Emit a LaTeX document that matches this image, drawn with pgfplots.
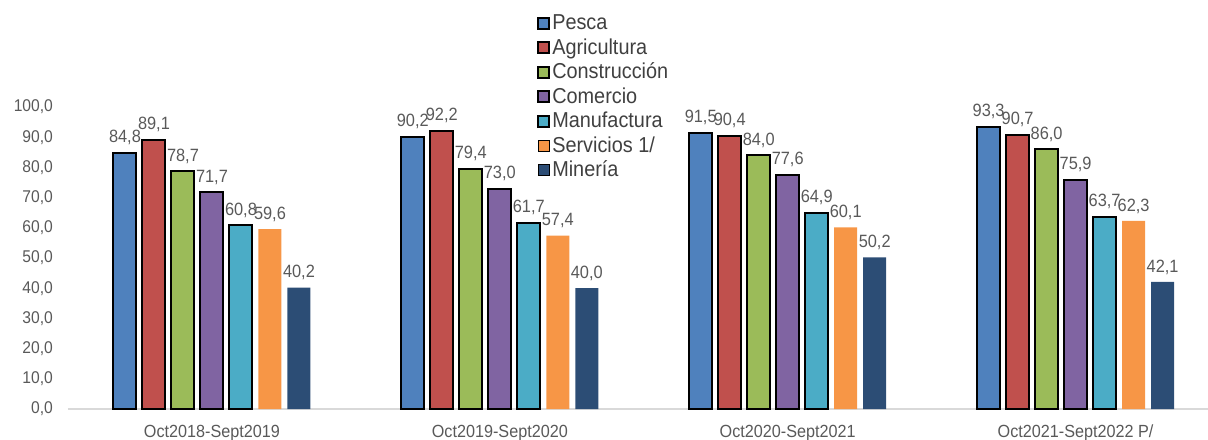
\documentclass[border=0pt]{standalone}
\usepackage{pgfplots}
\pgfplotsset{compat=1.18}
\usepackage{pgfplotstable}
\usepackage{fontspec}
\setmainfont{Liberation Sans}[FakeStretch=0.92]

\definecolor{cPesca}{HTML}{4F81BD}
\definecolor{cAgri}{HTML}{C0504D}
\definecolor{cConst}{HTML}{9BBB59}
\definecolor{cCom}{HTML}{8064A2}
\definecolor{cManu}{HTML}{4BACC6}
\definecolor{cServ}{HTML}{F79646}
\definecolor{cMin}{HTML}{2C4D75}
\definecolor{txtgray}{HTML}{595959}
\definecolor{leggray}{HTML}{404040}
\definecolor{axgray}{HTML}{D9D9D9}

\pgfplotstableread{
x pesca agri const com manu serv min
0 84.8 89.1 78.7 71.7 60.8 59.6 40.2
1 90.2 92.2 79.4 73.0 61.7 57.4 40.0
2 91.5 90.4 84.0 77.6 64.9 60.1 50.2
3 93.3 90.7 86.0 75.9 63.7 62.3 42.1
}\datatable

\begin{document}
\begin{tikzpicture}
\begin{axis}[
    name=ax,
    scale only axis,
    width=570pt, height=151pt,
    ybar=3pt, bar width=11.5pt,
    xmin=-0.5, xmax=3.46,
    ymin=0, ymax=100,
    clip=false,
    xtick={0,1,2,3},
    xticklabels={Oct2018-Sept2019, Oct2019-Sept2020, Oct2020-Sept2021, Oct2021-Sept2022 P/},
    ytick={0,10,...,100},
    yticklabel style={/pgf/number format/fixed, /pgf/number format/fixed zerofill,
        /pgf/number format/precision=1, /pgf/number format/use comma,
        /pgf/number format/assume math mode=true, font=\fontsize{8.5}{10}\selectfont, xshift=-4pt},
    ticklabel style={text=txtgray},
    xticklabel style={font=\fontsize{8.8}{11}\selectfont, yshift=-0.3pt},
    axis lines*=left,
    x axis line style={-, draw=axgray, line width=1pt},
    y axis line style={draw=none},
    major tick style={draw=none},
    nodes near coords={\pgfmathprintnumber[fixed, fixed zerofill, precision=1, use comma, assume math mode=true]{\pgfplotspointmeta}},
    every node near coord/.append style={font=\fontsize{8.9}{10}\selectfont, text=txtgray, inner sep=3.5pt},
    legend cell align=left,
    legend style={draw=none, fill=none, at={(axis description cs:0.406,1.332)}, anchor=north west,
        font=\fontsize{10.8}{12}\selectfont, text=leggray,
        nodes={inner sep=1pt, text height=8.2pt, text depth=2.05pt}, row sep=0pt},
    legend image code/.code={\draw[#1] (0pt,-2.75pt) rectangle (5.5pt,2.75pt);},
]
\addplot[fill=cPesca, draw=black, line width=1pt] table[x=x, y=pesca] {\datatable};
\addplot[fill=cAgri, draw=black, line width=1pt] table[x=x, y=agri] {\datatable};
\addplot[fill=cConst, draw=black, line width=1pt] table[x=x, y=const] {\datatable};
\addplot[fill=cCom, draw=black, line width=1pt] table[x=x, y=com] {\datatable};
\addplot[fill=cManu, draw=black, line width=1pt] table[x=x, y=manu] {\datatable};
\addplot[fill=cServ, draw=none] table[x=x, y=serv] {\datatable};
\addplot[fill=cMin, draw=none] table[x=x, y=min] {\datatable};
\legend{Pesca, Agricultura, Construcción, Comercio, Manufactura, Servicios 1/, Minería}
\end{axis}
\pgfresetboundingbox
\path (ax.south west) ++(-34pt,-15pt) rectangle ++(604pt,219.5pt);
\end{tikzpicture}
\end{document}
